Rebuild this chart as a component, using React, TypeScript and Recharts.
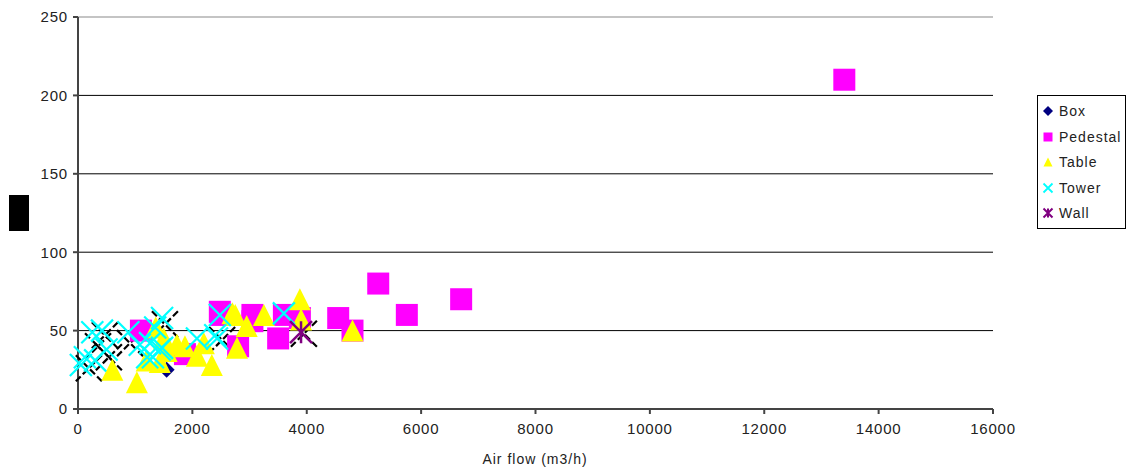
import React from 'react';
import { ScatterChart, Scatter, XAxis, YAxis, CartesianGrid, ReferenceLine, Label } from 'recharts';

// Air flow (m3/h) vs value, one array per unit type
const boxData = [{ x: 1550, y: 25 }];

const pedestalData = [
  { x: 1100, y: 50 }, { x: 1870, y: 35 }, { x: 2480, y: 62 }, { x: 2500, y: 60 },
  { x: 2800, y: 40 }, { x: 3050, y: 60 }, { x: 3050, y: 56 }, { x: 3500, y: 45 },
  { x: 3600, y: 60 }, { x: 3880, y: 58 }, { x: 4550, y: 58 }, { x: 4800, y: 50 },
  { x: 5250, y: 80 }, { x: 5750, y: 60 }, { x: 6700, y: 70 }, { x: 13400, y: 210 },
];

const tableData = [
  { x: 600, y: 25 }, { x: 1030, y: 17 }, { x: 1200, y: 31 }, { x: 1360, y: 52 },
  { x: 1430, y: 30 }, { x: 1500, y: 45 }, { x: 1550, y: 37 }, { x: 1730, y: 41 },
  { x: 1870, y: 40 }, { x: 2080, y: 34 }, { x: 2200, y: 42 }, { x: 2340, y: 28 },
  { x: 2700, y: 61 }, { x: 2750, y: 60 }, { x: 2780, y: 39 }, { x: 2950, y: 53 },
  { x: 3250, y: 60 }, { x: 3880, y: 70 }, { x: 3900, y: 57 }, { x: 4800, y: 50 },
];

const towerData = [
  { x: 50, y: 28 }, { x: 120, y: 33 }, { x: 250, y: 49 }, { x: 300, y: 31 },
  { x: 420, y: 50 }, { x: 500, y: 38 }, { x: 880, y: 49 }, { x: 1080, y: 41 },
  { x: 1210, y: 33 }, { x: 1260, y: 42 }, { x: 1310, y: 33 }, { x: 1350, y: 52 },
  { x: 1430, y: 38 }, { x: 1470, y: 58 }, { x: 1470, y: 39 }, { x: 2080, y: 45 },
  { x: 2400, y: 47 }, { x: 2430, y: 45 }, { x: 2480, y: 60 }, { x: 3600, y: 61 },
];

const wallData = [{ x: 3900, y: 49 }];

// dark crosses behind the markers, no legend entry
const shadowData = [
  { x: 190, y: 26 }, { x: 350, y: 40 }, { x: 470, y: 47 }, { x: 540, y: 33 },
  { x: 910, y: 42 }, { x: 1520, y: 54 }, { x: 2520, y: 44 }, { x: 3950, y: 48 },
];

const xTicks = [0, 2000, 4000, 6000, 8000, 10000, 12000, 14000, 16000];
const yTicks = [0, 50, 100, 150, 200, 250];
const gridLines = [50, 100, 150, 200];

const legendItems = [
  { name: 'Box', kind: 'diamond', color: '#000080' },
  { name: 'Pedestal', kind: 'square', color: '#FF00FF' },
  { name: 'Table', kind: 'triangle', color: '#FFFF00' },
  { name: 'Tower', kind: 'cross', color: '#00FFFF' },
  { name: 'Wall', kind: 'star', color: '#800080' },
];

const font = '"Liberation Sans", Arial, sans-serif';
const tickStyle = { fill: '#222', fontSize: 15, fontFamily: font, letterSpacing: 0.8 };

const drawMarker = (kind: string, color: string, cx: number, cy: number, s: number, dash?: string) => {
  const h = s / 2;
  if (kind === 'diamond') {
    return <path d={`M${cx},${cy - h}L${cx + h},${cy}L${cx},${cy + h}L${cx - h},${cy}Z`} fill={color} />;
  }
  if (kind === 'square') {
    return <rect x={cx - h} y={cy - h} width={s} height={s} fill={color} />;
  }
  if (kind === 'triangle') {
    return <path d={`M${cx},${cy - h}L${cx + h},${cy + h}L${cx - h},${cy + h}Z`} fill={color} />;
  }
  if (kind === 'cross') {
    return (
      <path d={`M${cx - h},${cy - h}L${cx + h},${cy + h}M${cx + h},${cy - h}L${cx - h},${cy + h}`}
        stroke={color} strokeWidth={s > 12 ? 2.2 : 1.8} strokeDasharray={dash} fill="none" />
    );
  }
  return (
    <path d={`M${cx - h},${cy - h}L${cx + h},${cy + h}M${cx + h},${cy - h}L${cx - h},${cy + h}M${cx},${cy - h}L${cx},${cy + h}`}
      stroke={color} strokeWidth={s > 12 ? 2.5 : 2} fill="none" />
  );
};

const shapeOf = (kind: string, color: string, size: number, dash?: string) => (props: any) => {
  const { cx, cy } = props;
  if (cx == null || cy == null) return <g />;
  return <g>{drawMarker(kind, color, cx, cy, size, dash)}</g>;
};

const App: React.FC = () => {
  return (
    <div style={{ position: 'absolute', left: 0, top: 0, width: 1128, height: 470, background: '#fff', fontFamily: font }}>
      <ScatterChart width={1128} height={470} margin={{ top: 17, right: 135, bottom: 0, left: 0 }}>
        <CartesianGrid vertical={false} stroke="#000" horizontalValues={gridLines} />
        <ReferenceLine y={250} stroke="#8a8a8a" strokeWidth={1.2} />
        <XAxis
          type="number"
          dataKey="x"
          domain={[0, 16000]}
          ticks={xTicks}
          interval={0}
          height={61}
          tickSize={5}
          tickMargin={9}
          stroke="#444"
          strokeWidth={2}
          tick={tickStyle}
        >
          <Label
            content={() => (
              <text x={535} y={464} textAnchor="middle" fill="#222" fontSize={14} letterSpacing={1} fontFamily={font}>
                Air flow (m3/h)
              </text>
            )}
          />
        </XAxis>
        <YAxis
          type="number"
          dataKey="y"
          domain={[0, 250]}
          ticks={yTicks}
          interval={0}
          width={78}
          tickSize={5}
          tickMargin={5}
          stroke="#444"
          strokeWidth={2}
          tick={tickStyle}
        >
          <Label content={() => <rect x={9} y={195} width={20} height={36} fill="#000" />} />
        </YAxis>
        <Scatter name="shadow" data={shadowData} legendType="none" isAnimationActive={false}
          shape={shapeOf('cross', '#000', 26, '7 3')} />
        <Scatter name="Box" data={boxData} isAnimationActive={false} shape={shapeOf('diamond', '#000080', 16)} />
        <Scatter name="Pedestal" data={pedestalData} isAnimationActive={false} shape={shapeOf('square', '#FF00FF', 22)} />
        <Scatter name="Table" data={tableData} isAnimationActive={false} shape={shapeOf('triangle', '#FFFF00', 22)} />
        <Scatter name="Tower" data={towerData} isAnimationActive={false} shape={shapeOf('cross', '#00FFFF', 22)} />
        <Scatter name="Wall" data={wallData} isAnimationActive={false} shape={shapeOf('star', '#800080', 22)} />
      </ScatterChart>

      <div
        style={{
          position: 'absolute', left: 1037, top: 95, width: 89, height: 134,
          border: '1px solid #000', boxSizing: 'border-box', background: '#fff',
        }}
      >
        {legendItems.map((item, i) => (
          <div key={item.name} style={{ position: 'absolute', left: 4, top: 6 + i * 25.5, height: 18, display: 'flex', alignItems: 'center' }}>
            <svg width={12} height={12} style={{ marginRight: 5 }}>
              {drawMarker(item.kind, item.color, 6, 6, item.kind === 'diamond' ? 10 : 9)}
            </svg>
            <span style={{ fontSize: 14, letterSpacing: 1, color: '#222', fontFamily: font }}>{item.name}</span>
          </div>
        ))}
      </div>
    </div>
  );
};

export default App;
